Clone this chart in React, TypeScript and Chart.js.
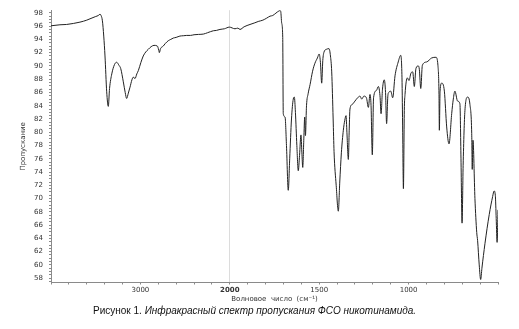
import React, { useEffect, useRef } from "react";
import { Chart, registerables } from "chart.js";

Chart.register(...registerables);

// Wavenumber (cm-1), descending
const wavenumbers = [
  4000, 3900, 3825, 3750, 3676, 3600, 3564, 3500, 3471, 3452, 3440, 3425, 3410, 3396, 3377, 3359, 3345, 3320, 3290, 3266,
  3240, 3220, 3191, 3170, 3154, 3135, 3116, 3095, 3080, 3060, 3040, 3023, 2995, 2968, 2940, 2912, 2880, 2848, 2811, 2795,
  2788, 2775, 2744, 2720, 2688, 2660, 2632, 2600, 2558, 2520, 2482, 2440, 2400, 2350, 2296, 2250, 2184, 2150, 2110, 2060,
  2005, 1971, 1955, 1943, 1920, 1887, 1860, 1841, 1815, 1794, 1775, 1760, 1742, 1725, 1719, 1715, 1710, 1704, 1701, 1691,
  1683, 1673, 1665, 1655, 1645, 1639, 1633, 1625, 1617, 1610, 1602, 1597, 1592, 1586, 1581, 1577, 1571, 1562, 1551, 1537,
  1524, 1510, 1500, 1493, 1486, 1480, 1473, 1460, 1445, 1437, 1430, 1422, 1417, 1405, 1393, 1385, 1376, 1365, 1357, 1350,
  1345, 1337, 1332, 1328, 1315, 1300, 1285, 1272, 1262, 1250, 1236, 1225, 1216, 1210, 1203, 1196, 1180, 1169, 1160, 1154,
  1146, 1136, 1129, 1123, 1116, 1111, 1100, 1089, 1076, 1058, 1044, 1037, 1033, 1029, 1024, 1020, 1007, 998, 987, 977,
  968, 959, 946, 940, 932, 923, 899, 871, 847, 836, 830, 828, 824, 815, 800, 787, 774, 759, 750, 741,
  726, 713, 707, 701, 695, 685, 670, 657, 647, 644, 640, 629, 619, 614, 605, 597, 590, 573, 549, 530,
  522, 515, 510, 505, 500,
];

// Transmittance (%)
const transmittance = [
  96.05, 96.2, 96.25, 96.4, 96.6, 96.9, 97.1, 97.45, 97.6, 97.8, 97.6, 96.8, 94.5, 91.5, 86.1, 83.9, 86.6, 88.8, 90.2, 90.55,
  90.1, 89.6, 87.6, 86.0, 85.1, 85.9, 86.8, 87.9, 88.3, 88.1, 88.8, 89.3, 90.5, 91.5, 92.1, 92.5, 92.9, 93.1, 93.0, 92.4,
  92.0, 92.6, 93.0, 93.4, 93.8, 94.0, 94.2, 94.3, 94.5, 94.55, 94.6, 94.6, 94.7, 94.75, 94.8, 95.0, 95.3, 95.35, 95.5, 95.6,
  95.85, 95.6, 95.7, 95.5, 95.9, 96.25, 96.5, 96.7, 96.9, 97.2, 97.5, 97.6, 97.96, 98.3, 98.35, 98.2, 96.5, 94.3, 82.8, 82.3,
  78.0, 71.25, 76.0, 82.0, 85.0, 85.3, 83.0, 78.0, 74.2, 76.5, 79.6, 77.0, 74.7, 79.0, 82.3, 79.5, 84.0, 85.8, 87.2, 89.2,
  90.4, 91.2, 91.8, 90.5, 87.4, 90.8, 92.1, 92.5, 92.6, 91.5, 89.1, 82.0, 77.1, 72.0, 68.1, 72.5, 76.9, 80.3, 81.8, 82.5,
  80.0, 75.9, 80.5, 83.5, 84.2, 84.7, 85.2, 85.45, 85.0, 85.45, 85.2, 83.75, 85.7, 84.0, 76.6, 85.2, 86.3, 86.9, 85.5, 82.8,
  86.5, 87.9, 86.0, 81.3, 85.5, 86.0, 86.2, 85.2, 88.5, 90.6, 91.6, 88.2, 80.0, 71.5, 83.25, 85.7, 88.2, 87.8, 88.9, 89.1,
  86.9, 89.6, 90.0, 89.5, 86.6, 90.1, 90.6, 91.2, 91.3, 90.1, 85.7, 80.3, 86.2, 87.4, 86.2, 80.8, 78.25, 82.8, 85.0, 86.2,
  84.7, 84.3, 76.0, 66.3, 75.0, 83.25, 85.3, 84.2, 79.8, 74.4, 78.8, 70.0, 64.9, 63.65, 60.0, 57.8, 59.5, 63.2, 67.6, 70.3,
  71.15, 70.5, 67.0, 63.4, 68.3,
];

// Labelled wavenumber ticks
const xTickWavenumbers = [3000, 2000, 1500, 1000];

// The spectrum axis is compressed 2x above 2000 cm-1
function toAxis(wn: number): number {
  return wn > 2000 ? -(wn - 2000) / 2 : 2000 - wn;
}

const FONT = "'DejaVu Sans', 'Liberation Sans', sans-serif";

export default function App() {
  const canvasRef = useRef<HTMLCanvasElement | null>(null);

  useEffect(() => {
    document.body.style.margin = "0";
    const canvas = canvasRef.current;
    if (!canvas) return;
    const points = wavenumbers.map((wn, i) => ({ x: toAxis(wn), y: transmittance[i] }));
    const labelMap = new Map<number, string>();
    xTickWavenumbers.forEach((wn) => labelMap.set(toAxis(wn), String(wn)));

    const chart = new Chart(canvas, {
      type: "line",
      data: {
        datasets: [
          {
            data: points,
            borderColor: "#222",
            borderWidth: 1,
            pointRadius: 0,
            fill: false,
            cubicInterpolationMode: "monotone",
          },
        ],
      },
      options: {
        animation: false,
        responsive: false,
        maintainAspectRatio: false,
        parsing: false as any,
        layout: { padding: { left: 0, top: 4, right: 21, bottom: 0 } },
        plugins: { legend: { display: false }, tooltip: { enabled: false } },
        scales: {
          x: {
            type: "linear",
            min: -1000,
            max: 1500,
            afterFit: (scale: any) => {
              scale.height = 27.5;
            },
            border: { display: true, color: "#8a8a8a", width: 1 },
            grid: {
              drawOnChartArea: true,
              color: (ctx: any) => (ctx.tick && ctx.tick.value === 0 ? "#dcdcdc" : "rgba(0,0,0,0)"),
              tickColor: "#8a8a8a",
              tickLength: 2,
              lineWidth: 1,
            },
            ticks: {
              stepSize: 100,
              autoSkip: false,
              maxRotation: 0,
              minRotation: 0,
              padding: 1,
              color: "#333",
              font: (ctx: any) => ({
                family: FONT,
                size: 7,
                weight: ctx.tick && ctx.tick.value === 0 ? "bold" : "normal",
              }),
              callback: (v: any) => labelMap.get(Number(v)) ?? "",
            },
            title: {
              display: true,
              text: "Волновое  число  (см⁻¹)",
              color: "#333",
              font: { family: FONT, size: 7 },
              padding: { top: 0, bottom: 6.5 },
            },
          },
          y: {
            type: "linear",
            min: 57.35,
            max: 98.4,
            afterFit: (scale: any) => {
              scale.width = 51;
            },
            border: { display: true, color: "#8a8a8a", width: 1 },
            grid: {
              drawOnChartArea: false,
              tickColor: "#8a8a8a",
              tickLength: 2,
            },
            ticks: {
              stepSize: 0.5,
              autoSkip: false,
              includeBounds: false,
              padding: 6,
              color: "#333",
              font: { family: FONT, size: 7 },
              callback: (v: any) => {
                const n = Number(v);
                return Number.isInteger(n) && n % 2 === 0 ? String(n) : "";
              },
            },
            title: {
              display: true,
              text: "Пропускание",
              color: "#333",
              font: { family: FONT, size: 7 },
              padding: { top: 19, bottom: 0 },
            },
          },
        },
      },
    });
    return () => chart.destroy();
  }, []);

  return (
    <div style={{ position: "absolute", left: 0, top: 0, width: 519, height: 329, background: "#fff" }}>
      <canvas ref={canvasRef} width={519} height={310} style={{ display: "block", width: 519, height: 310 }} />
      <div
        style={{
          position: "absolute",
          left: 93,
          top: 304,
          fontFamily: "'Liberation Sans', Arial, sans-serif",
          fontSize: 10,
          lineHeight: "14px",
          color: "#111",
          whiteSpace: "nowrap",
        }}
      >
        Рисунок 1. <i>Инфракрасный спектр пропускания ФСО никотинамида.</i>
      </div>
    </div>
  );
}
